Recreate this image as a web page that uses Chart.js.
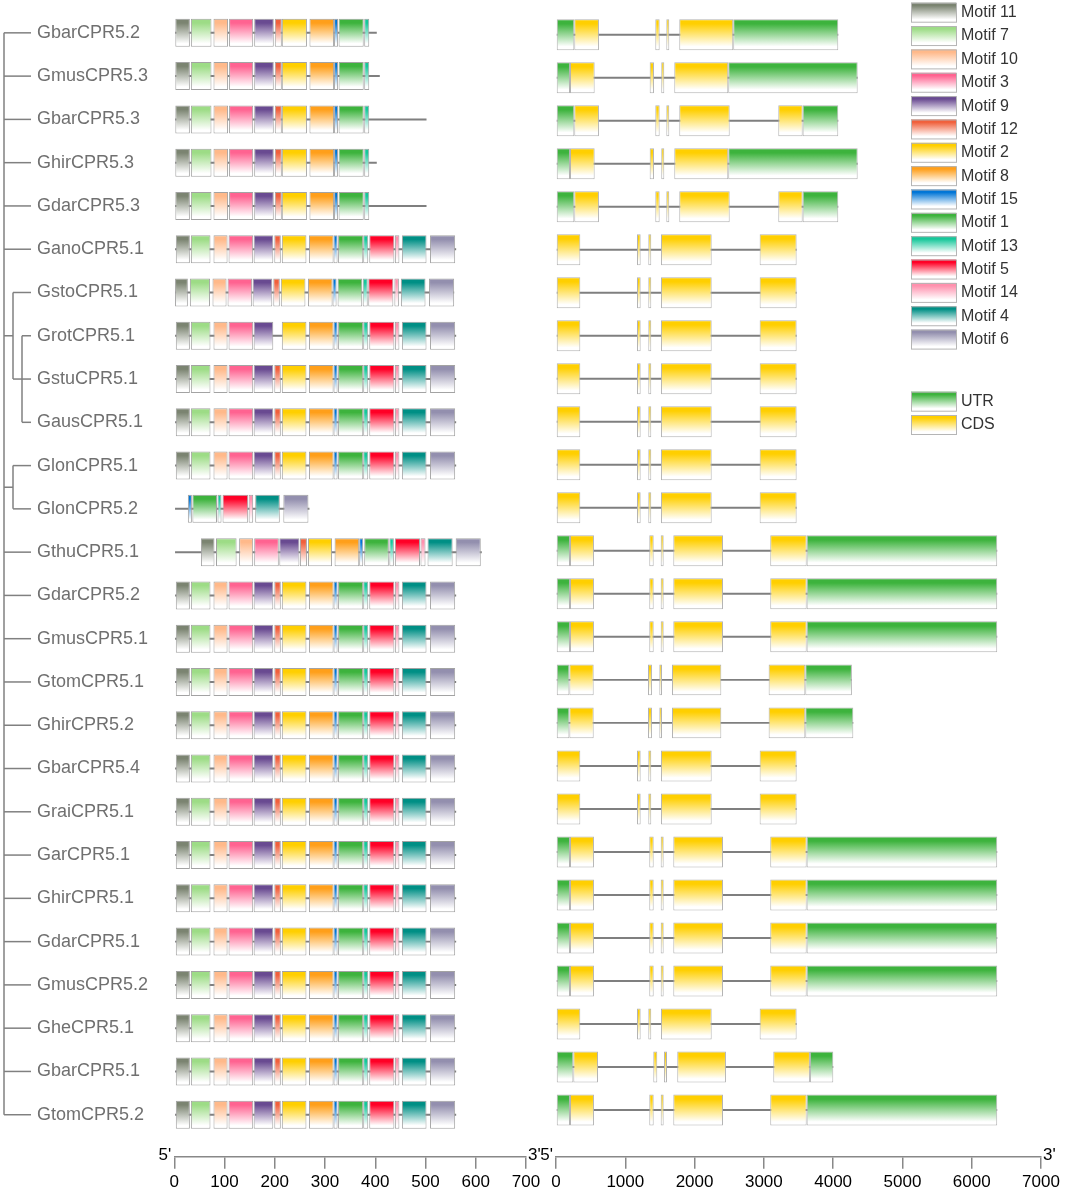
<!DOCTYPE html>
<html>
<head>
<meta charset="utf-8">
<title>CPR5 motifs and gene structures</title>
<script src="https://cdn.jsdelivr.net/npm/chart.js@4.4.1/dist/chart.umd.min.js"></script>
<style>
  body { margin: 0; background: #fff; }
  #wrap { position: relative; width: 1072px; height: 1190px; }
  #wrap canvas { position: absolute; left: 0; top: 0; }
</style>
</head>
<body>
<div id="wrap">
  <canvas id="motifChart" width="1072" height="1190"></canvas>
  <canvas id="geneChart" width="1072" height="1190"></canvas>
</div>
<script>
Chart.defaults.font.family = "'Liberation Sans', Arial, sans-serif";

// gene order (top to bottom)
const genes = ['GbarCPR5.2', 'GmusCPR5.3', 'GbarCPR5.3', 'GhirCPR5.3', 'GdarCPR5.3',
    'GanoCPR5.1', 'GstoCPR5.1', 'GrotCPR5.1', 'GstuCPR5.1', 'GausCPR5.1',
    'GlonCPR5.1', 'GlonCPR5.2', 'GthuCPR5.1', 'GdarCPR5.2', 'GmusCPR5.1',
    'GtomCPR5.1', 'GhirCPR5.2', 'GbarCPR5.4', 'GraiCPR5.1', 'GarCPR5.1',
    'GhirCPR5.1', 'GdarCPR5.1', 'GmusCPR5.2', 'GheCPR5.1', 'GbarCPR5.1', 'GtomCPR5.2'];

// tree, by row index
const tree = [0, 1, 2, 3, 4, 5, [6, [7, 8, 9]], [10, 11], 12, 13, 14, 15, 16, 17, 18,
    19, 20, 21, 22, 23, 24, 25];

// protein lengths (aa)
const proteinLength = [403, 409, 502, 403, 502, 561, 557, 561, 561, 561, 561, 269, 612,
    561, 561, 561, 561, 561, 561, 561, 561, 561, 561, 561, 561, 561];

// legend order
const motifNumbers = [11, 7, 10, 3, 9, 12, 2, 8, 15, 1, 13, 5, 14, 4, 6];

// [motif, start, end]
const motifsShort = [[11, 2, 31], [7, 33, 74], [10, 78, 107], [3, 109, 157], [9, 159, 198],
    [12, 200, 214], [2, 214, 264], [8, 269, 318], [15, 318, 326], [1, 327, 377], [13, 378, 388]];
const motifsFull = [[11, 3, 31], [7, 33, 72], [10, 78, 106], [3, 108, 157], [9, 158, 197],
    [12, 199, 212], [2, 214, 263], [8, 268, 317], [15, 317, 325], [1, 326, 376], [13, 376, 386],
    [5, 388, 438], [14, 439, 448], [4, 453, 502], [6, 509, 559]];
const motifsGsto = [[11, 0, 27], [7, 31, 71], [10, 76, 104], [3, 106, 155], [9, 156, 195],
    [12, 197, 210], [2, 212, 261], [8, 266, 315], [15, 315, 323], [1, 325, 374], [13, 375, 385],
    [5, 386, 436], [14, 438, 447], [4, 451, 500], [6, 507, 557]];
const motifsGrot = [[11, 3, 31], [7, 33, 72], [10, 78, 106], [3, 108, 157], [9, 158, 197],
    [2, 214, 263], [8, 268, 317], [15, 317, 325], [1, 326, 376], [13, 376, 386],
    [5, 388, 438], [14, 439, 448], [4, 453, 502], [6, 509, 559]];
const motifsGlon2 = [[15, 27, 35], [1, 36, 85], [13, 86, 94], [5, 96, 147], [14, 148, 157],
    [4, 161, 210], [6, 217, 267]];
const motifsGthu = [[11, 53, 80], [7, 83, 124], [10, 129, 157], [3, 159, 208], [9, 209, 249],
    [12, 250, 264], [2, 266, 314], [8, 319, 368], [15, 368, 376], [1, 378, 427], [13, 428, 437],
    [5, 439, 489], [14, 490, 500], [4, 504, 554], [6, 560, 610]];

const geneMotifs = [motifsShort, motifsShort, motifsShort, motifsShort, motifsShort,
    motifsFull, motifsGsto, motifsGrot, motifsFull, motifsFull, motifsFull, motifsGlon2,
    motifsGthu, motifsFull, motifsFull, motifsFull, motifsFull, motifsFull, motifsFull,
    motifsFull, motifsFull, motifsFull, motifsFull, motifsFull, motifsFull, motifsFull];

// exons [type, start, end] in bp
const exonsA = [['UTR', 0, 264], ['CDS', 264, 620], ['CDS', 1433, 1496], ['CDS', 1592, 1635],
    ['CDS', 1779, 2558], ['UTR', 2558, 4074]];
const exonsB = [['UTR', 0, 202], ['CDS', 202, 558], ['CDS', 1352, 1414], ['CDS', 1519, 1563],
    ['CDS', 1707, 2486], ['UTR', 2486, 4354]];
const exonsC = [['UTR', 0, 264], ['CDS', 264, 620], ['CDS', 1433, 1496], ['CDS', 1592, 1635],
    ['CDS', 1779, 2507], ['CDS', 3208, 3560], ['UTR', 3560, 4074]];
const exonsD = [['CDS', 0, 351], ['CDS', 1169, 1222], ['CDS', 1332, 1375], ['CDS', 1515, 2247],
    ['CDS', 2939, 3473]];
const exonsE = [['UTR', 0, 202], ['CDS', 202, 548], ['CDS', 1346, 1410], ['CDS', 1511, 1554],
    ['CDS', 1693, 2410], ['CDS', 3092, 3618], ['UTR', 3618, 6368]];
const exonsF = [['UTR', 0, 193], ['CDS', 193, 544], ['CDS', 1328, 1385], ['CDS', 1491, 1530],
    ['CDS', 1674, 2386], ['CDS', 3069, 3598], ['UTR', 3598, 4271]];
const exonsF2 = [['UTR', 0, 193], ['CDS', 193, 544], ['CDS', 1328, 1385], ['CDS', 1491, 1530],
    ['CDS', 1674, 2386], ['CDS', 3069, 3598], ['UTR', 3598, 4291]];
const exonsG = [['UTR', 0, 250], ['CDS', 250, 606], ['CDS', 1404, 1462], ['CDS', 1558, 1602],
    ['CDS', 1750, 2453], ['CDS', 3136, 3665], ['UTR', 3665, 4002]];

const geneExons = [exonsA, exonsB, exonsC, exonsB, exonsC,
    exonsD, exonsD, exonsD, exonsD, exonsD, exonsD, exonsD,
    exonsE, exonsE, exonsE, exonsF, exonsF2, exonsD, exonsD,
    exonsE, exonsE, exonsE, exonsE, exonsD, exonsG, exonsE];

const motifColors = {
    11: '#7b8471', 7: '#9ddc86', 10: '#ffb98a', 3: '#ff6391', 9: '#694a91',
    12: '#f0603c', 2: '#ffcf00', 8: '#ff9f1a', 15: '#0075d6', 1: '#3db33d',
    13: '#16c79a', 5: '#ff0026', 14: '#ff91ae', 4: '#008f85', 6: '#938fae'
};
const utrColor = '#3db33d';
const cdsColor = '#ffcf00';


function gradient(g, color, top, bottom) {
    var gr = g.createLinearGradient(0, top, 0, bottom);
    gr.addColorStop(0, color);
    gr.addColorStop(0.15, color);
    gr.addColorStop(0.88, '#ffffff');
    gr.addColorStop(1, '#ffffff');
    return gr;
}

// bar fill fading to white, per row
function fade(color, half) {
    return function (c) {
        if (c.type !== 'data' || !c.raw || !c.chart.scales.y) return color;
        var y = c.chart.scales.y.getPixelForValue(c.raw.y);
        if (!isFinite(y)) return color;
        return gradient(c.chart.ctx, color, y - half, y + half);
    };
}

// one tick per gene row
function rowTicks(s) {
    s.ticks = genes.map(function (n, i) { return { value: i }; });
}

const endLabels = {
    id: 'endLabels',
    afterDraw: function (chart) {
        var a = chart.chartArea, g = chart.ctx;
        g.save();
        g.fillStyle = '#000';
        g.font = "17px 'Liberation Sans', Arial";
        g.textAlign = 'right';
        g.fillText("5'", a.left - 3, a.bottom + 3);
        g.textAlign = 'left';
        g.fillText("3'", a.right + 2, a.bottom + 3);
        g.restore();
    }
};

const treePlugin = {
    id: 'tree',
    afterDraw: function (chart) {
        var ys = chart.scales.y, g = chart.ctx;
        g.save();
        g.strokeStyle = '#808080';
        g.lineWidth = 1.5;
        function seg(x1, y1, x2, y2) {
            g.beginPath(); g.moveTo(x1, y1); g.lineTo(x2, y2); g.stroke();
        }
        function clade(node, x) {
            var pos = node.map(function (ch) {
                var cy;
                if (Array.isArray(ch)) {
                    cy = clade(ch, x + 9);
                    seg(x, cy, x + 9, cy);
                } else {
                    cy = ys.getPixelForValue(ch);
                    seg(x, cy, 31, cy);
                }
                return cy;
            });
            seg(x, pos[0], x, pos[pos.length - 1]);
            return (pos[0] + pos[pos.length - 1]) / 2;
        }
        clade(tree, 4);
        g.restore();
    }
};

const legendPlugin = {
    id: 'sideLegend',
    afterDraw: function (chart) {
        var g = chart.ctx;
        var items = motifNumbers.map(function (m, k) {
            return ['Motif ' + m, motifColors[m], 2.7 + 23.35 * k];
        });
        items.push(['UTR', utrColor, 391.7]);
        items.push(['CDS', cdsColor, 415]);
        g.save();
        g.font = "16px 'Liberation Sans', Arial";
        g.textBaseline = 'middle';
        g.textAlign = 'left';
        items.forEach(function (it) {
            g.fillStyle = gradient(g, it[1], it[2], it[2] + 19);
            g.fillRect(911, it[2], 45, 19);
            g.strokeStyle = '#b5b5b5';
            g.lineWidth = 1;
            g.strokeRect(911.5, it[2] + 0.5, 45, 19);
            g.fillStyle = '#333';
            g.fillText(it[0], 961, it[2] + 10);
        });
        g.restore();
    }
};

function xAxis(max, step) {
    return {
        type: 'linear', position: 'bottom', min: 0, max: max,
        ticks: {
            stepSize: step, color: '#000', font: { size: 17 }, padding: 3, maxRotation: 0,
            callback: function (v) { return String(v); }
        },
        grid: { drawOnChartArea: false, color: '#888', tickLength: 12, lineWidth: 1.5 },
        border: { color: '#888', width: 1.5 },
        afterFit: function (s) { s.height = 33.3; }
    };
}

// ---- left: conserved motifs
var motifSets = motifNumbers.map(function (m) {
    var data = [];
    geneMotifs.forEach(function (list, row) {
        list.forEach(function (d) {
            if (d[0] === m) data.push({ x: [d[1], d[2]], y: row });
        });
    });
    return {
        label: 'Motif ' + m, data: data,
        backgroundColor: fade(motifColors[m], 14),
        borderColor: '#a3a3a3', borderWidth: 1, borderSkipped: false,
        grouped: false, categoryPercentage: 1, barPercentage: 0.647
    };
});
motifSets.push({
    label: 'protein',
    data: proteinLength.map(function (len, row) { return { x: [0, len], y: row }; }),
    backgroundColor: '#7f7f7f', borderWidth: 0, grouped: false,
    categoryPercentage: 1, barPercentage: 0.046
});

new Chart(document.getElementById('motifChart'), {
    type: 'bar',
    data: { datasets: motifSets },
    options: {
        responsive: false,
        animation: false,
        indexAxis: 'y',
        layout: { padding: { left: 37, right: 546, top: 10.6, bottom: 0 } },
        plugins: { legend: { display: false }, tooltip: { enabled: false } },
        scales: {
            x: xAxis(700, 100),
            y: {
                type: 'linear', min: -0.44, max: 25.97, reverse: true, offset: false,
                afterBuildTicks: rowTicks,
                ticks: {
                    callback: function (v) { return genes[v]; },
                    color: '#707070', font: { size: 18 }, crossAlign: 'far', autoSkip: false
                },
                grid: { display: false, offset: false },
                border: { display: false },
                afterFit: function (s) { s.width = 137.3; }
            }
        }
    },
    plugins: [treePlugin, endLabels]
});

// ---- right: gene structures
var utrData = [], cdsData = [];
geneExons.forEach(function (list, row) {
    list.forEach(function (e) {
        (e[0] === 'UTR' ? utrData : cdsData).push({ x: [e[1], e[2]], y: row });
    });
});
var intronData = geneExons.map(function (list, row) {
    return { x: [0, Math.max.apply(null, list.map(function (e) { return e[2]; }))], y: row };
});

new Chart(document.getElementById('geneChart'), {
    type: 'bar',
    data: {
        datasets: [
            { label: 'UTR', data: utrData, backgroundColor: fade(utrColor, 15.5),
              borderColor: '#b3b3b3', borderWidth: 1, borderSkipped: false,
              grouped: false, categoryPercentage: 1, barPercentage: 0.72 },
            { label: 'CDS', data: cdsData, backgroundColor: fade(cdsColor, 15.5),
              borderColor: '#b3b3b3', borderWidth: 1, borderSkipped: false,
              grouped: false, categoryPercentage: 1, barPercentage: 0.72 },
            { label: 'intron', data: intronData, backgroundColor: '#7f7f7f',
              borderWidth: 0, grouped: false, categoryPercentage: 1, barPercentage: 0.046 }
        ]
    },
    options: {
        responsive: false,
        animation: false,
        indexAxis: 'y',
        layout: { padding: { left: 556, right: 31, top: 10.6, bottom: 0 } },
        plugins: { legend: { display: false }, tooltip: { enabled: false } },
        scales: {
            x: xAxis(7000, 1000),
            y: { type: 'linear', min: -0.56, max: 26.086, reverse: true, offset: false,
                 afterBuildTicks: rowTicks, grid: { offset: false }, display: false }
        }
    },
    plugins: [endLabels, legendPlugin]
});
</script>
</body>
</html>
